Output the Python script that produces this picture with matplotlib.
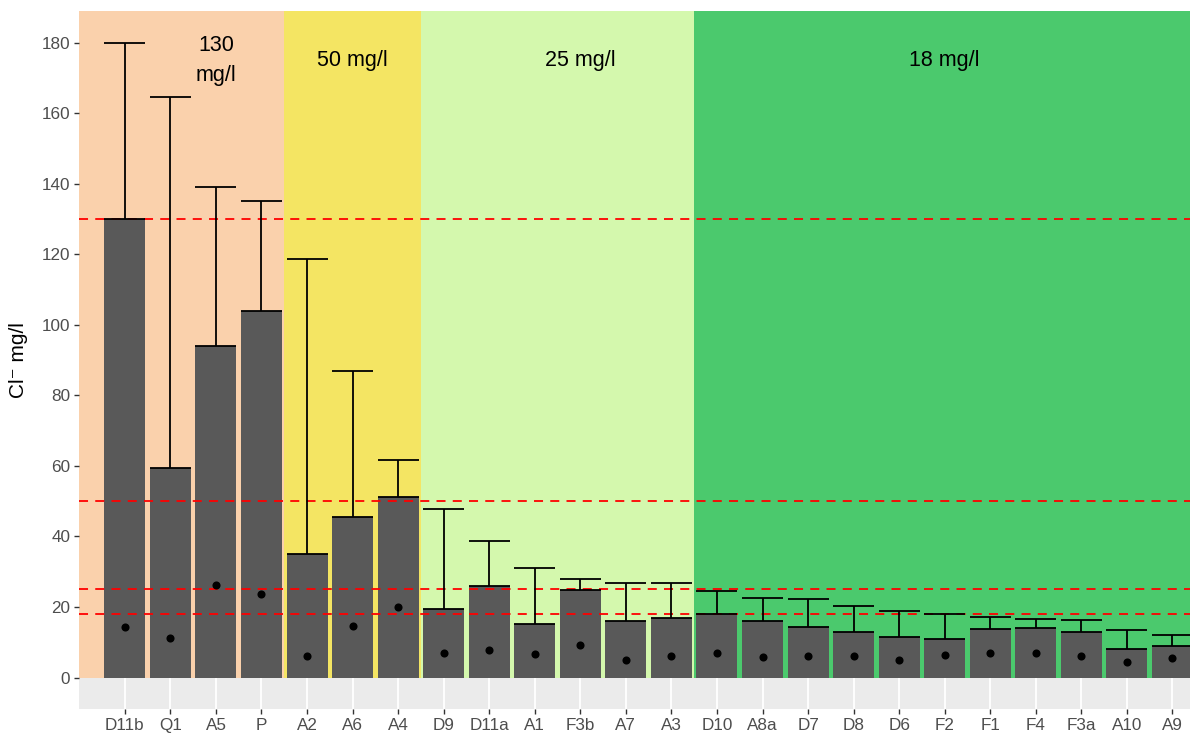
import matplotlib
matplotlib.use("Agg")
import matplotlib.pyplot as plt
from matplotlib.patches import Rectangle
import numpy as np

plt.rcParams['font.family'] = ['Liberation Sans', 'DejaVu Sans']

# sampling sites, sorted by limit group
sites = ["D11b", "Q1", "A5", "P", "A2", "A6", "A4", "D9", "D11a", "A1", "F3b", "A7",
         "A3", "D10", "A8a", "D7", "D8", "D6", "F2", "F1", "F4", "F3a", "A10", "A9"]
mean_cl = [130, 59.5, 94, 104, 35, 45.6, 51.2, 19.4, 26.1, 15.3, 24.9, 16.1,
           16.9, 18.0, 16.0, 14.4, 12.8, 11.6, 10.8, 13.7, 14.0, 12.9, 8.1, 8.9]
max_cl = [180, 164.5, 139.2, 135, 118.8, 86.8, 61.6, 47.9, 38.6, 31.2, 28.0, 26.8,
          26.8, 24.6, 22.7, 22.3, 20.2, 18.9, 18.0, 17.2, 16.5, 16.4, 13.4, 12.0]
median_cl = [14.3, 11.1, 26.3, 23.6, 6.0, 14.6, 20.1, 7.0, 7.8, 6.7, 9.1, 5.0,
             6.1, 7.0, 5.8, 6.1, 6.1, 5.1, 6.5, 7.0, 7.0, 6.1, 4.5, 5.5]

# limit groups
limit_values = [130, 50, 25, 18]
limit_labels = ["130\nmg/l", "50 mg/l", "25 mg/l", "18 mg/l"]
group_sizes = [4, 3, 6, 11]
label_sites = ["A5", "A6", "F3b", "F2"]
group_colors = ["#FAD1AC", "#F4E563", "#D4F8AD", "#4BC96D"]

x = np.arange(1, len(sites) + 1)
xlim = (0, 24.6)
ylim = (-9, 189)

fig = plt.figure(figsize=(11.9, 7.35), dpi=100)
ax = fig.add_axes([79.3 / 1190, 25.7 / 735, 1120.5 / 1190, 698.3 / 735])
ax.set_facecolor("#EBEBEB")
ax.set_xlim(*xlim)
ax.set_ylim(*ylim)

# white grid (only visible below zero)
for xi in x:
    ax.axvline(xi, color="white", lw=1.3, zorder=0.5)

# coloured background per limit group
edges = np.concatenate([[0], np.cumsum(group_sizes)]) + 0.5
edges[0] = xlim[0]
edges[-1] = xlim[1]
for i, col in enumerate(group_colors):
    ax.add_patch(Rectangle((edges[i], 0), edges[i + 1] - edges[i], ylim[1],
                           facecolor=col, edgecolor="none", zorder=1))

ax.bar(x, mean_cl, width=0.9, color="#595959", zorder=2)

for lv in limit_values:
    ax.axhline(lv, color="#FF0000", lw=1.3, ls=(0, (5, 4)), zorder=3)

mean_arr = np.array(mean_cl)
max_arr = np.array(max_cl)
ax.vlines(x, mean_arr, max_arr, color="black", lw=1.3, zorder=4)
ax.hlines(max_arr, x - 0.45, x + 0.45, color="black", lw=1.3, zorder=4)
ax.hlines(mean_arr, x - 0.45, x + 0.45, color="black", lw=1.3, zorder=4)

ax.scatter(x, median_cl, s=34, color="black", zorder=5, linewidths=0)

for lab, site in zip(limit_labels, label_sites):
    ax.text(sites.index(site) + 1, 175, lab, ha="center", va="center",
            fontsize=15.5, color="black", linespacing=1.55, zorder=6)

ax.set_xticks(x)
ax.set_xticklabels(sites)
ax.set_yticks(np.arange(0, 181, 20))
ax.tick_params(axis="both", labelsize=12.3, colors="#333333", length=3.5, width=1,
               labelcolor="#4D4D4D", pad=3)
for s in ax.spines.values():
    s.set_visible(False)

ax.set_ylabel("Cl\u207b mg/l", fontsize=15, color="black")
ax.yaxis.set_label_coords(-0.046, 0.5)

fig.savefig("out.png", dpi=100)
